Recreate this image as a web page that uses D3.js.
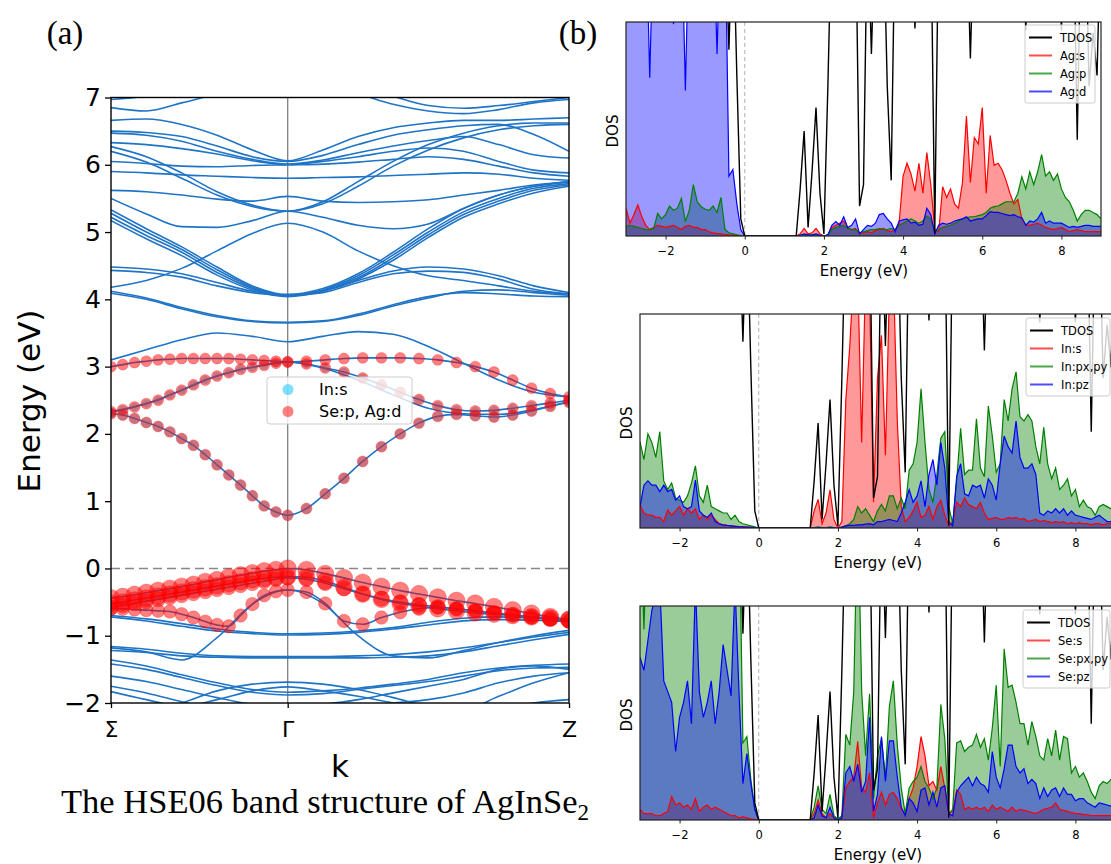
<!DOCTYPE html>
<html>
<head>
<meta charset="utf-8">
<script src="https://cdn.jsdelivr.net/npm/d3@7"></script>
<style>
  body { margin: 0; background: #fff; }
  svg text { font-family: "DejaVu Sans", sans-serif; fill: #000; }
  .serif { font-family: "Liberation Serif", "Times New Roman", serif; }
</style>
</head>
<body>
<script>
// ---------------- Band structure data ----------------
const kLabels = ["Σ", "Γ", "Z"];
const kLabelPos = [0, 0.3858, 1];           // path coordinate of the high-symmetry points
const energyTicks = [-2, -1, 0, 1, 2, 3, 4, 5, 6, 7];

// plain bands on a 14-point grid (Σ … Γ = 6 points, Γ … Z = 9 points)
const conductionBands = [
  [6.97, 7.02, 7.12, 7.22, 7.30, 7.32, 7.30, 7.20, 7.02, 6.88, 6.84, 6.88, 6.94, 7.00],
  [6.85, 6.80, 6.92, 7.05, 7.15, 7.20, 7.15, 7.05, 6.90, 6.80, 6.76, 6.82, 6.92, 6.97],
  [6.66, 6.68, 6.60, 6.44, 6.22, 6.06, 6.22, 6.42, 6.55, 6.62, 6.66, 6.66, 6.68, 6.70],
  [6.50, 6.48, 6.42, 6.28, 6.12, 6.05, 6.14, 6.30, 6.44, 6.52, 6.58, 6.60, 6.45, 6.20],
  [6.47, 6.44, 6.35, 6.20, 6.08, 6.01, 6.07, 6.18, 6.28, 6.36, 6.42, 6.30, 6.15, 6.10],
  [6.33, 6.30, 6.24, 6.16, 6.06, 6.00, 6.05, 6.12, 6.20, 6.25, 6.20, 6.05, 5.92, 5.88],
  [6.27, 6.12, 5.88, 5.60, 5.40, 5.31, 5.45, 5.75, 6.05, 6.30, 6.47, 6.58, 6.62, 6.62],
  [6.20, 6.04, 5.80, 5.55, 5.38, 5.31, 5.42, 5.68, 5.98, 6.22, 6.40, 6.52, 6.58, 6.60],
  [6.05, 6.02, 5.98, 5.97, 5.99, 6.00, 6.01, 6.04, 6.08, 6.12, 6.08, 5.98, 5.88, 5.83],
  [5.90, 5.88, 5.85, 5.83, 5.81, 5.80, 5.81, 5.82, 5.84, 5.86, 5.88, 5.86, 5.80, 5.77],
  [5.62, 5.60, 5.55, 5.49, 5.46, 5.53, 5.46, 5.44, 5.45, 5.48, 5.55, 5.62, 5.70, 5.74],
  [5.50, 5.27, 5.08, 5.07, 5.17, 5.31, 5.22, 5.10, 5.05, 5.12, 5.35, 5.55, 5.68, 5.75],
  [4.18, 4.28, 4.46, 4.72, 4.98, 5.13, 5.00, 4.72, 4.50, 4.35, 4.28, 4.20, 4.12, 4.08],
  [5.33, 5.05, 4.78, 4.48, 4.20, 4.07, 4.16, 4.38, 4.70, 5.05, 5.35, 5.55, 5.68, 5.75],
  [5.28, 5.00, 4.74, 4.44, 4.18, 4.06, 4.14, 4.35, 4.66, 5.00, 5.30, 5.50, 5.65, 5.72],
  [5.22, 4.95, 4.70, 4.40, 4.16, 4.05, 4.13, 4.32, 4.62, 4.96, 5.26, 5.46, 5.62, 5.70],
  [5.17, 4.90, 4.65, 4.36, 4.14, 4.04, 4.12, 4.30, 4.58, 4.92, 5.22, 5.42, 5.58, 5.68],
  [4.12, 4.02, 3.88, 3.76, 3.68, 3.66, 3.68, 3.78, 3.92, 4.04, 4.10, 4.08, 4.05, 4.04],
  [4.09, 4.00, 3.86, 3.74, 3.67, 3.65, 3.67, 3.76, 3.90, 4.02, 4.12, 4.14, 4.10, 4.06],
  [4.48, 4.45, 4.38, 4.25, 4.12, 4.07, 4.12, 4.28, 4.42, 4.48, 4.45, 4.35, 4.20, 4.10],
  [4.43, 4.40, 4.33, 4.20, 4.10, 4.06, 4.10, 4.25, 4.38, 4.42, 4.40, 4.30, 4.15, 4.08],
  [3.10, 3.25, 3.40, 3.50, 3.45, 3.37, 3.45, 3.52, 3.48, 3.30, 3.05, 2.80, 2.62, 2.55],
  [2.33, 2.45, 2.65, 2.86, 2.99, 3.07, 2.98, 2.80, 2.58, 2.38, 2.30, 2.29, 2.36, 2.48]
];

const valenceBands = [
  [-1.18, -1.24, -1.36, -1.03, -0.53, -0.32, -0.52, -1.00, -1.30, -1.33, -1.22, -1.10, -1.00, -0.92],
  [-0.70, -0.75, -0.82, -0.90, -0.95, -0.97, -0.96, -0.93, -0.88, -0.80, -0.74, -0.72, -0.74, -0.77],
  [-0.72, -0.78, -0.86, -0.93, -0.97, -0.99, -0.98, -0.95, -0.90, -0.84, -0.78, -0.76, -0.77, -0.79],
  [-1.16, -1.20, -1.26, -1.30, -1.31, -1.31, -1.31, -1.30, -1.28, -1.24, -1.18, -1.10, -1.02, -0.95],
  [-1.22, -1.25, -1.30, -1.32, -1.33, -1.33, -1.33, -1.33, -1.32, -1.30, -1.24, -1.15, -1.06, -0.98],
  [-2.30, -2.15, -2.00, -1.82, -1.72, -1.69, -1.72, -1.80, -1.92, -2.05, -2.10, -1.90, -1.70, -1.55],
  [-1.36, -1.45, -1.58, -1.70, -1.80, -1.84, -1.82, -1.78, -1.72, -1.65, -1.55, -1.48, -1.44, -1.42],
  [-1.42, -1.50, -1.62, -1.74, -1.84, -1.88, -1.86, -1.80, -1.74, -1.68, -1.60, -1.52, -1.48, -1.47],
  [-1.60, -1.68, -1.80, -1.92, -2.02, -2.05, -2.02, -1.95, -1.85, -1.75, -1.65, -1.50, -1.45, -1.50],
  [-1.75, -1.85, -1.98, -2.10, -2.15, -2.15, -2.10, -2.05, -2.00, -1.95, -1.85, -1.70, -1.60, -1.55],
  [-1.83, -1.95, -2.05, -1.95, -1.82, -1.76, -1.82, -1.90, -2.00, -2.10, -2.20, -2.10, -2.00, -1.95]
];

// orbital-projected bands on the full 31-point k mesh
const projEnergies = [
  [2.30, 2.28, 2.23, 2.17, 2.11, 2.03, 1.93, 1.83, 1.69, 1.54, 1.39, 1.24, 1.08, 0.93, 0.84, 0.79,
   0.89, 1.11, 1.34, 1.59, 1.81, 2.00, 2.16, 2.26, 2.29, 2.27, 2.25, 2.28, 2.34, 2.41, 2.47],
  [2.33, 2.36, 2.40, 2.45, 2.50, 2.58, 2.65, 2.73, 2.80, 2.86, 2.91, 2.96, 2.99, 3.02, 3.05, 3.07,
   3.04, 2.98, 2.92, 2.83, 2.73, 2.62, 2.51, 2.42, 2.36, 2.34, 2.35, 2.38, 2.42, 2.46, 2.50],
  [3.00, 3.03, 3.06, 3.08, 3.10, 3.11, 3.12, 3.12, 3.12, 3.12, 3.12, 3.11, 3.10, 3.09, 3.08, 3.07,
   3.08, 3.10, 3.12, 3.13, 3.13, 3.13, 3.12, 3.10, 3.06, 3.00, 2.92, 2.80, 2.68, 2.60, 2.55],
  [-0.44, -0.42, -0.39, -0.36, -0.33, -0.30, -0.27, -0.24, -0.20, -0.17, -0.13, -0.10, -0.07, -0.04, -0.02, 0.00,
   -0.02, -0.08, -0.14, -0.21, -0.27, -0.33, -0.38, -0.43, -0.48, -0.52, -0.57, -0.62, -0.67, -0.72, -0.76],
  [-0.52, -0.50, -0.47, -0.44, -0.41, -0.38, -0.35, -0.32, -0.29, -0.26, -0.23, -0.20, -0.17, -0.15, -0.13, -0.12,
   -0.13, -0.19, -0.28, -0.38, -0.46, -0.52, -0.56, -0.60, -0.63, -0.66, -0.68, -0.70, -0.72, -0.74, -0.76],
  [-0.58, -0.55, -0.52, -0.49, -0.46, -0.43, -0.40, -0.37, -0.34, -0.31, -0.28, -0.25, -0.22, -0.19, -0.16, -0.14,
   -0.16, -0.22, -0.30, -0.38, -0.45, -0.50, -0.54, -0.57, -0.60, -0.63, -0.66, -0.69, -0.72, -0.75, -0.78],
  [-0.60, -0.60, -0.61, -0.62, -0.63, -0.64, -0.68, -0.73, -0.79, -0.84, -0.86, -0.70, -0.53, -0.40, -0.34, -0.32,
   -0.35, -0.52, -0.78, -0.83, -0.73, -0.65, -0.60, -0.58, -0.60, -0.63, -0.66, -0.70, -0.73, -0.76, -0.79]
];
// projection weights of each projected band
const weightSeAgd = [0.30, 0.30, 0.30, 0.75, 0.70, 0.55, 0.45];
const weightIns   = [0.27, 0.18, 0.00, 0.00, 0.00, 0.00, 0.00];
const projLegend = ["In:s", "Se:p, Ag:d"];

// ---------------- Density of states data (E = -3 … 9 eV, step 0.1) ----------------
const tdos = [
  15, 15, 15, 15, 15, 15, 15, 15, 15, 15,
  15, 15, 15, 15, 15, 15, 15, 15, 15, 15,
  15, 15, 15, 15, 15, 15, 8.7, 15, 7.5, 0.8,
  0, 0, 0, 0, 0, 0, 0, 0, 0, 0,
  0, 0, 0, 0, 2.2, 4.9, 0.4, 3.0, 6.0, 2.0,
  0.1, 7, 15, 15, 15, 15, 15, 15, 15, 1.4,
  2.4, 15, 8.5, 15, 15, 15, 7, 2.6, 15, 15,
  15, 15, 15, 9.7, 15, 15, 15, 15, 0.1, 15,
  15, 15, 15, 15, 15, 15, 15, 8.3, 15, 15,
  15, 15, 15, 15, 15, 15, 15, 15, 15, 15,
  15, 9.6, 15, 15, 15, 15, 15, 15, 15, 15,
  9.6, 15, 15, 15, 4.5, 15, 15, 7.0, 9.5, 7.5,
  15
];
const agS = [
  1.3, 0.6, 1.0, 1.45, 0.9, 0.5, 0.3, 0.4, 0.5, 0.45,
  0.4, 0.45, 0.5, 0.4, 0.3, 0.45, 0.5, 0.4, 0.4, 0.3,
  0.3, 0.2, 0.15, 0.12, 0.1, 0.08, 0.05, 0.04, 0.03, 0.02,
  0, 0, 0, 0, 0, 0, 0, 0, 0, 0,
  0, 0, 0, 0, 0.1, 0.35, 0.1, 0.15, 0.35, 0.1,
  0, 0.05, 0.4, 0.5, 0.6, 0.7, 0.4, 0.3, 0.35, 0.1,
  0.15, 0.2, 0.15, 0.25, 0.3, 0.35, 0.25, 0.2, 0.3, 0.6,
  2.8, 3.4, 2.9, 2.1, 3.4, 2.0, 3.9, 2.4, 0.3, 0.2,
  2.3, 1.8, 2.2, 1.5, 1.3, 2.5, 5.6, 2.5, 4.6, 4.3,
  6.0, 2.0, 4.7, 3.3, 3.4, 3.1, 2.6, 2.0, 1.5, 1.7,
  0.8, 0.5, 0.5, 0.55, 0.6, 0.5, 0.4, 0.35, 0.3, 0.35,
  0.4, 0.3, 0.2, 0.25, 0.3, 0.25, 0.2, 0.2, 0.2, 0.2,
  0.2
];
const agP = [
  0.45, 0.5, 0.45, 0.4, 0.35, 0.3, 0.3, 0.35, 1.06, 0.8,
  1.0, 1.4, 1.2, 1.3, 1.76, 0.67, 1.2, 2.4, 1.6, 1.37,
  1.25, 1.2, 1.4, 1.1, 1.8, 0.3, 0.15, 0.1, 0.05, 0.02,
  0, 0, 0, 0, 0, 0, 0, 0, 0, 0,
  0, 0, 0, 0, 0.03, 0.05, 0.03, 0.03, 0.05, 0.03,
  0, 0.05, 0.3, 0.4, 0.45, 0.5, 0.35, 0.3, 0.3, 0.15,
  0.2, 0.25, 0.3, 0.3, 0.35, 0.3, 0.3, 0.35, 0.3, 0.5,
  0.6, 0.7, 0.8, 0.7, 0.6, 0.7, 0.93, 0.8, 0.2, 0.3,
  0.4, 0.45, 0.5, 0.6, 0.7, 0.8, 0.85, 0.9, 0.9, 0.95,
  1.0, 1.1, 1.3, 1.37, 1.4, 1.5, 1.6, 1.6, 1.6, 2.0,
  2.77, 2.2, 3.0, 2.4, 3.0, 3.8, 2.8, 3.0, 2.6, 2.9,
  2.2, 1.8, 1.6, 1.2, 0.7, 1.0, 1.2, 1.2, 1.1, 1.0,
  0.8
];
const agD = [
  15, 15, 15, 15, 15, 15, 7.4, 15, 15, 15,
  15, 15, 9.9, 15, 15, 6.8, 15, 15, 15, 15,
  15, 15, 15, 8.5, 15, 15, 2.8, 3.1, 1.5, 0.3,
  0, 0, 0, 0, 0, 0, 0, 0, 0, 0,
  0, 0, 0, 0, 0.03, 0.1, 0.05, 0.05, 0.1, 0.03,
  0, 0.05, 0.5, 0.67, 0.5, 0.9, 0.4, 0.5, 0.8, 0.1,
  0.3, 0.5, 0.45, 0.6, 1.0, 1.05, 0.8, 0.6, 0.2, 0.7,
  0.75, 0.8, 0.6, 0.65, 0.5, 0.55, 1.3, 1.0, 0.1, 0.5,
  0.6, 0.55, 0.6, 0.7, 0.75, 0.8, 0.9, 0.7, 0.75, 0.8,
  0.8, 0.95, 1.14, 1.1, 1.1, 1.05, 1.0, 0.95, 1.0, 0.9,
  0.85, 0.5, 0.7, 0.65, 0.8, 1.1, 0.6, 0.7, 0.6, 0.6,
  0.6, 0.5, 0.4, 0.45, 0.4, 0.45, 0.5, 0.5, 0.45, 0.45,
  0.45
];
const inS = [
  1.07, 0.7, 0.6, 0.6, 0.5, 0.5, 0.3, 0.84, 0.6, 0.8,
  1.0, 0.6, 0.9, 0.7, 0.9, 0.4, 0.6, 0.4, 0.6, 0.4,
  0.2, 0.15, 0.12, 0.1, 0.08, 0.06, 0.05, 0.04, 0.03, 0.02,
  0, 0, 0, 0, 0, 0, 0, 0, 0, 0,
  0, 0, 0, 0, 0.8, 1.34, 0.2, 0.7, 1.78, 0.4,
  0, 0.3, 6.0, 8.5, 12, 12, 4.0, 12, 11, 1.2,
  7, 9, 3.4, 11, 12, 5, 1.0, 0.3, 0.5, 0.8,
  1.2, 0.5, 0.6, 1.0, 0.4, 1.0, 1.3, 0.6, 0.1, 0.3,
  1.2, 1.0, 1.4, 1.1, 1.0, 0.9, 1.2, 0.7, 0.4, 0.45,
  0.5, 0.4, 0.4, 0.5, 0.45, 0.5, 0.4, 0.45, 0.3, 0.35,
  0.4, 0.3, 0.35, 0.3, 0.25, 0.3, 0.25, 0.3, 0.2, 0.25,
  0.2, 0.25, 0.2, 0.2, 0.15, 0.2, 0.2, 0.15, 0.2, 0.2,
  0.2
];
const inPxy = [
  4.03, 3.2, 4.4, 4.0, 3.3, 4.5, 2.2, 1.8, 2.1, 1.4,
  1.3, 1.2, 1.5, 2.1, 2.9, 1.5, 1.2, 2.0, 1.0, 0.9,
  0.8, 0.7, 0.7, 0.4, 0.6, 0.3, 0.2, 0.15, 0.1, 0.05,
  0, 0, 0, 0, 0, 0, 0, 0, 0, 0,
  0, 0, 0, 0, 0.02, 0.05, 0.02, 0.02, 0.05, 0.02,
  0, 0.05, 0.1, 0.2, 0.4, 1.0, 0.7, 0.9, 0.6, 0.3,
  0.8, 1.1, 0.8, 1.5, 1.5, 0.9, 1.4, 0.9, 2.7, 3.0,
  4.0, 6.5, 4.0, 1.8, 1.2, 2.5, 4.2, 4.5, 1.0, 0.2,
  2.2, 4.66, 2.5, 2.7, 2.7, 5.1, 2.8, 2.4, 5.7, 4.3,
  2.6, 3.0, 6.0, 5.0, 6.5, 7.3, 5.2, 5.0, 5.3, 5.0,
  3.8, 3.0, 4.7, 3.0, 2.3, 2.8, 1.8, 2.0, 2.3, 1.5,
  1.8, 1.0, 1.3, 1.0, 0.9, 0.6, 1.0, 1.1, 1.0, 0.9,
  1.0
];
const inPz = [
  1.0, 2.0, 2.2, 2.0, 2.0, 1.7, 2.0, 1.7, 1.8, 1.3,
  1.5, 1.0, 0.9, 1.0, 2.24, 0.8, 0.6, 0.5, 0.7, 0.3,
  0.2, 0.15, 0.12, 0.1, 0.08, 0.06, 0.05, 0.04, 0.03, 0.02,
  0, 0, 0, 0, 0, 0, 0, 0, 0, 0,
  0, 0, 0, 0, 0, 0.02, 0, 0, 0.02, 0,
  0, 0.03, 0.1, 0.12, 0.12, 0.15, 0.15, 0.18, 0.2, 0.15,
  0.3, 0.3, 0.35, 0.4, 0.35, 0.3, 0.7, 1.2, 1.8, 1.2,
  1.5, 2.2, 1.0, 2.5, 3.2, 2.0, 4.0, 2.8, 0.3, 0.1,
  2.4, 3.0, 1.6, 1.5, 2.0, 1.9, 2.0, 1.4, 2.3, 2.0,
  1.3, 3.0, 4.3, 3.8, 3.5, 5.0, 3.3, 2.8, 2.8, 3.0,
  2.5, 0.7, 0.6, 0.8, 0.7, 0.9, 0.7, 0.9, 0.6, 0.8,
  0.6, 0.55, 0.5, 0.45, 0.4, 0.5, 0.6, 0.45, 0.3, 0.3,
  0.3
];
const seS = [
  0.5, 0.3, 0.3, 0.3, 0.2, 0.2, 0.3, 0.4, 1.1, 0.7,
  0.8, 0.6, 0.7, 0.5, 1.0, 0.4, 0.6, 0.7, 0.5, 0.6,
  0.5, 0.4, 0.3, 0.2, 0.2, 0.1, 0.15, 0.1, 0.05, 0.02,
  0, 0, 0, 0, 0, 0, 0, 0, 0, 0,
  0, 0, 0, 0, 0.3, 0.93, 0.3, 0.1, 0.3, 0.1,
  0, 0.1, 1.5, 1.8, 2.0, 3.66, 1.5, 1.3, 2.2, 0.1,
  0.8, 1.3, 0.7, 1.2, 1.3, 1.0, 0.5, 0.3, 1.0, 1.5,
  2.5, 3.9, 3.0, 1.6, 1.8, 1.4, 2.5, 1.5, 0.3, 0.4,
  1.4, 1.2, 0.5, 0.6, 0.5, 0.6, 0.5, 0.6, 0.4, 0.7,
  0.5, 0.6, 0.5, 0.4, 0.6, 0.4, 0.5, 0.45, 0.4, 0.35,
  0.3, 0.4, 0.5, 0.55, 0.6, 0.8, 0.5, 0.45, 0.4, 0.35,
  0.3, 0.3, 0.25, 0.25, 0.2, 0.2, 0.2, 0.2, 0.2, 0.2,
  0.2
];
const sePxy = [
  15, 8.9, 15, 15, 15, 15, 15, 15, 15, 15,
  15, 15, 15, 15, 15, 15, 15, 15, 15, 15,
  15, 15, 15, 15, 15, 15, 3.6, 3.9, 1.9, 0.5,
  0, 0, 0, 0, 0, 0, 0, 0, 0, 0,
  0, 0, 0, 0, 0.6, 1.6, 0.5, 0.3, 1.2, 0.2,
  0.05, 0.2, 4.0, 3.5, 6.0, 15, 6.0, 3.0, 5.9, 1.0,
  3.0, 3.8, 2.0, 5.3, 6.5, 3.5, 1.5, 0.3, 1.5, 1.8,
  2.0, 2.5, 1.8, 1.5, 1.0, 1.5, 5.4, 3.8, 0.3, 0.5,
  3.6, 3.7, 3.2, 3.4, 3.5, 4.0, 3.4, 3.8, 2.8, 4.3,
  6.3, 2.5, 8.0, 6.2, 6.3, 5.5, 4.5, 4.5, 3.5, 4.6,
  3.9, 3.0, 2.8, 3.8, 3.0, 4.2, 2.8, 3.9, 3.8, 2.2,
  2.5, 2.0, 2.2, 1.8, 1.3, 1.0, 1.6, 1.8, 1.7, 1.9,
  1.8
];
const sePz = [
  7.6, 7.0, 8.4, 9.8, 10.5, 11, 6.5, 6.0, 5.5, 3.2,
  4.8, 5.5, 6.5, 4.5, 11, 6.0, 4.8, 5.5, 6.5, 4.5,
  6.0, 8.2, 7.0, 5.8, 11, 6.0, 1.7, 3.1, 1.7, 0.5,
  0, 0, 0, 0, 0, 0, 0, 0, 0, 0,
  0, 0, 0, 0, 0.1, 0.7, 0.2, 0.1, 0.6, 0.1,
  0, 0.1, 2.2, 2.5, 1.8, 2.6, 1.3, 1.8, 4.8, 0.4,
  1.2, 3.9, 1.8, 3.7, 3.7, 2.0, 0.6, 0.2, 1.0, 0.8,
  0.4, 1.4, 1.5, 0.7, 1.3, 0.6, 1.5, 1.6, 0.3, 0.2,
  1.3, 1.6, 1.8, 2.0, 1.6, 2.0, 1.7, 1.6, 1.3, 3.2,
  2.0, 1.5, 2.4, 3.5, 3.5, 2.5, 2.2, 2.4, 1.7, 1.9,
  1.7, 1.0, 1.5, 1.1, 1.4, 1.5, 1.1, 1.5, 1.2, 1.2,
  0.9, 1.0, 1.0, 0.8, 0.7, 0.6, 0.8, 0.75, 0.7, 0.65,
  0.6
];
const dosTicks = [-2, 0, 2, 4, 6, 8];

// ---------------- Drawing ----------------
const W = 1111, H = 864;
const svg = d3.select("body").append("svg").attr("width", W).attr("height", H);
const minus = d => (d < 0 ? "\u2212" + Math.abs(d) : String(d));

// ===== (a) band structure =====
const box = { x0: 111, x1: 569, y0: 97.5, y1: 703 };
const kx = d3.scaleLinear().domain([0, 1]).range([box.x0, box.x1]);
const ey = d3.scaleLinear().domain([-2, 7]).range([box.y1, box.y0]);
const kG = kLabelPos[1];
const kCoarse = d3.range(14).map(i => (i <= 5 ? kG * i / 5 : kG + (1 - kG) * (i - 5) / 8));
const kMesh = d3.range(31).map(i => (i <= 15 ? kG * i / 15 : kG + (1 - kG) * (i - 15) / 15));
const rScale = d3.scaleSqrt().domain([0, 1]).range([0, 10]);

svg.append("clipPath").attr("id", "bandClip")
  .append("rect").attr("x", box.x0).attr("y", box.y0)
  .attr("width", box.x1 - box.x0).attr("height", box.y1 - box.y0);

const gA = svg.append("g");
const plotA = gA.append("g").attr("clip-path", "url(#bandClip)");

// Fermi level and Γ marker
plotA.append("line").attr("x1", kx(0)).attr("x2", kx(1)).attr("y1", ey(0)).attr("y2", ey(0))
  .attr("stroke", "#888").attr("stroke-width", 1.6).attr("stroke-dasharray", "9,5");
plotA.append("line").attr("x1", kx(kG)).attr("x2", kx(kG)).attr("y1", box.y0).attr("y2", box.y1)
  .attr("stroke", "#808080").attr("stroke-width", 1.3);

const bandColor = "#1f74c6";
const lineOn = ks => d3.line().x((d, i) => kx(ks[i])).y(d => ey(d)).curve(d3.curveMonotoneX);

plotA.selectAll("path.band")
  .data(conductionBands.concat(valenceBands))
  .join("path").attr("class", "band")
  .attr("d", lineOn(kCoarse))
  .attr("fill", "none").attr("stroke", bandColor).attr("stroke-width", 1.6);

plotA.selectAll("path.pband")
  .data(projEnergies)
  .join("path").attr("class", "pband")
  .attr("d", lineOn(kMesh))
  .attr("fill", "none").attr("stroke", bandColor).attr("stroke-width", 1.6);

// projection markers: In:s first, then Se:p + Ag:d on top
const ptsFor = (wts) => projEnergies.flatMap((band, b) =>
  band.map((e, i) => ({ k: kMesh[i], e, w: wts[b] })).filter(p => p.w > 0));

plotA.append("g").selectAll("circle")
  .data(ptsFor(weightIns)).join("circle")
  .attr("cx", d => kx(d.k)).attr("cy", d => ey(d.e)).attr("r", d => rScale(d.w))
  .attr("fill", "#00bfff").attr("fill-opacity", 0.4);

plotA.append("g").selectAll("circle")
  .data(ptsFor(weightSeAgd)).join("circle")
  .attr("cx", d => kx(d.k)).attr("cy", d => ey(d.e)).attr("r", d => rScale(d.w))
  .attr("fill", "#ff0000").attr("fill-opacity", 0.5)
  .attr("stroke", "#ff0000").attr("stroke-opacity", 0.35).attr("stroke-width", 0.8);

// frame
gA.append("rect").attr("x", box.x0).attr("y", box.y0)
  .attr("width", box.x1 - box.x0).attr("height", box.y1 - box.y0)
  .attr("fill", "none").attr("stroke", "#000").attr("stroke-width", 1.4);

// axes
const yAxA = gA.append("g").attr("transform", `translate(${box.x0},0)`)
  .call(d3.axisLeft(ey).tickValues(energyTicks).tickSize(6).tickPadding(4).tickFormat(minus));
yAxA.select(".domain").remove();
yAxA.selectAll("line").attr("stroke", "#000").attr("stroke-width", 1.3);
yAxA.selectAll("text").style("font-size", "25px");

const xAxA = gA.append("g").attr("transform", `translate(0,${box.y1})`)
  .call(d3.axisBottom(kx).tickValues(kLabelPos).tickSize(5).tickPadding(13)
    .tickFormat((d, i) => kLabels[i]));
xAxA.select(".domain").remove();
xAxA.selectAll("line").attr("stroke", "#000").attr("stroke-width", 1.3);
xAxA.selectAll("text").style("font-size", "22px");

gA.append("text").attr("transform", "translate(29,401) rotate(-90)")
  .attr("text-anchor", "middle").attr("dominant-baseline", "central")
  .style("font-size", "31px").text("Energy (eV)");
gA.append("text").attr("x", (box.x0 + box.x1) / 2).attr("y", 777)
  .attr("text-anchor", "middle").style("font-size", "31px").text("k");

// legend of (a)
const legA = gA.append("g");
legA.append("rect").attr("x", 267).attr("y", 377).attr("width", 145).attr("height", 47).attr("rx", 3)
  .attr("fill", "#fff").attr("fill-opacity", 0.8).attr("stroke", "#cccccc");
const legColors = ["#00bfff", "#ff0000"];
projLegend.forEach((lab, i) => {
  const cy = 389.5 + i * 22;
  legA.append("circle").attr("cx", 288).attr("cy", cy).attr("r", 5.5)
    .attr("fill", legColors[i]).attr("fill-opacity", 0.5);
  legA.append("text").attr("x", 319).attr("y", cy).attr("dominant-baseline", "central")
    .style("font-size", "16px").text(lab);
});

// caption and panel letters
const cap = svg.append("text").attr("class", "serif").attr("x", 325).attr("y", 813)
  .attr("text-anchor", "middle").style("font-size", "34.5px");
cap.append("tspan").text("The HSE06 band structure of AgInSe");
cap.append("tspan").attr("dy", 7).style("font-size", "23px").text("2");

svg.append("text").attr("class", "serif").attr("x", 65).attr("y", 44)
  .attr("text-anchor", "middle").style("font-size", "33px").text("(a)");
svg.append("text").attr("class", "serif").attr("x", 578).attr("y", 44)
  .attr("text-anchor", "middle").style("font-size", "33px").text("(b)");

// ===== (b) density of states panels =====
const dosE = d3.range(121).map(i => -3 + i * 0.1);
const pdosColors = ["#ff0000", "#008000", "#0000ff"];

function dosPanel(id, left, top, parts, names, leg) {
  const wPx = 475, hPx = 214;
  const x = d3.scaleLinear().domain([-3, 9]).range([left, left + wPx]);
  const y = d3.scaleLinear().domain([0, 10]).range([top + hPx, top]);
  const g = svg.append("g");
  svg.append("clipPath").attr("id", id).append("rect")
    .attr("x", left).attr("y", top).attr("width", wPx).attr("height", hPx);
  const p = g.append("g").attr("clip-path", `url(#${id})`);

  const area = d3.area().x((d, i) => x(dosE[i])).y0(y(0)).y1(d => y(d));
  const line = d3.line().x((d, i) => x(dosE[i])).y(d => y(d));

  p.selectAll("path.fill").data(parts).join("path").attr("class", "fill")
    .attr("d", area).attr("fill", (d, i) => pdosColors[i]).attr("fill-opacity", 0.4);
  p.selectAll("path.pl").data(parts).join("path").attr("class", "pl")
    .attr("d", line).attr("fill", "none").attr("stroke", (d, i) => pdosColors[i])
    .attr("stroke-width", 1.2);
  p.append("line").attr("x1", x(0)).attr("x2", x(0)).attr("y1", top).attr("y2", top + hPx)
    .attr("stroke", "#b0b0b0").attr("stroke-width", 1).attr("stroke-dasharray", "4,3");
  p.append("path").datum(tdos).attr("d", line).attr("fill", "none")
    .attr("stroke", "#000").attr("stroke-width", 1.4);

  g.append("rect").attr("x", left).attr("y", top).attr("width", wPx).attr("height", hPx)
    .attr("fill", "none").attr("stroke", "#222").attr("stroke-width", 1.2);

  const ax = g.append("g").attr("transform", `translate(0,${top + hPx})`)
    .call(d3.axisBottom(x).tickValues(dosTicks).tickSize(3.5).tickPadding(7).tickFormat(minus));
  ax.select(".domain").remove();
  ax.selectAll("line").attr("stroke", "#222");
  ax.selectAll("text").style("font-size", "11.5px");

  g.append("text").attr("x", left + wPx / 2 + 0.5).attr("y", top + hPx + 40)
    .attr("text-anchor", "middle").style("font-size", "15px").text("Energy (eV)");
  g.append("text").attr("transform", `translate(${left - 13},${top + hPx / 2 + 2}) rotate(-90)`)
    .attr("text-anchor", "middle").attr("dominant-baseline", "central")
    .style("font-size", "15px").text("DOS");

  // legend
  const lg = g.append("g");
  lg.append("rect").attr("x", leg.x).attr("y", leg.y).attr("width", leg.w).attr("height", 78)
    .attr("rx", 2.5).attr("fill", "#fff").attr("fill-opacity", 0.8).attr("stroke", "#cccccc");
  const cols = ["#000"].concat(pdosColors);
  names.forEach((nm, i) => {
    const cy = leg.y + 12.5 + i * 18;
    lg.append("line").attr("x1", leg.x + 4).attr("x2", leg.x + 27).attr("y1", cy).attr("y2", cy)
      .attr("stroke", cols[i]).attr("stroke-width", 2).attr("stroke-opacity", i === 0 ? 1 : 0.7);
    lg.append("text").attr("x", leg.x + 35).attr("y", cy).attr("dominant-baseline", "central")
      .style("font-size", "11.5px").text(nm);
  });
}

dosPanel("dos1", 626, 22, [agS, agP, agD], ["TDOS", "Ag:s", "Ag:p", "Ag:d"], { x: 1025, y: 25, w: 70 });
dosPanel("dos2", 640, 314, [inS, inPxy, inPz], ["TDOS", "In:s", "In:px,py", "In:pz"], { x: 1026, y: 318, w: 84 });
dosPanel("dos3", 640, 606, [seS, sePxy, sePz], ["TDOS", "Se:s", "Se:px,py", "Se:pz"], { x: 1023, y: 610, w: 87 });
</script>
</body>
</html>
